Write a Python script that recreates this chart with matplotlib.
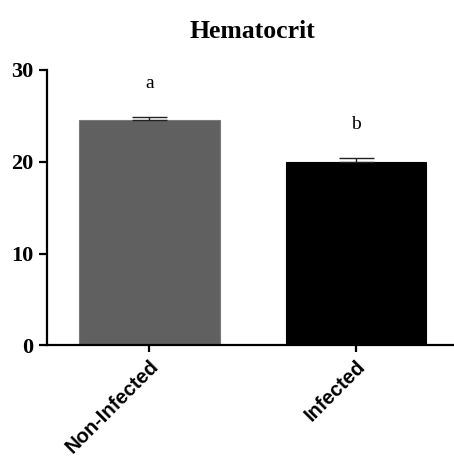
import matplotlib
matplotlib.use("Agg")
import matplotlib.pyplot as plt
from matplotlib.transforms import ScaledTranslation

groups = ["Non-Infected", "Infected"]
means = [24.55, 19.95]
sems = [0.3, 0.45]
letters = ["a", "b"]
bar_colors = ["#606060", "#000000"]

fig = plt.figure(figsize=(4.54, 4.57), dpi=100)
W, H = 454, 457
x0, y0, y1 = 47, 345.3, 70.0
ax = fig.add_axes([x0 / W, (H - y0) / H, (W - x0) / W, (y0 - y1) / H])

pos = list(range(len(groups)))
ax.bar(pos, means, width=0.68, color=bar_colors, edgecolor=["#7a7a7a", "#000000"],
       linewidth=0.8, zorder=2)
ax.errorbar(pos, means, yerr=[[0] * len(sems), sems], fmt="none", ecolor="#222222",
            elinewidth=1.0, capsize=12.6, capthick=1.0, zorder=3)

for p, m, s, t in zip(pos, means, sems, letters):
    ax.text(p, m + s + 3.7, t, ha="center", va="center",
            fontsize=14, family="Liberation Serif")

ax.set_ylim(0, 30)
ax.set_xlim(-0.496, 1.475)
ax.set_yticks([0, 10, 20, 30])
ax.set_yticklabels(["0", "10", "20", "30"], fontsize=16,
                   family="Liberation Serif", fontweight="bold")
ax.set_xticks(pos)
ax.set_xticklabels(groups, rotation=45, ha="right", va="top",
                   rotation_mode="anchor", fontsize=14.5,
                   family="Liberation Sans", fontweight="bold")
shift = ScaledTranslation(-0.05, -0.01, fig.dpi_scale_trans)
for lab in ax.get_xticklabels():
    lab.set_transform(lab.get_transform() + shift)

for side in ("top", "right"):
    ax.spines[side].set_visible(False)
for side in ("left", "bottom"):
    ax.spines[side].set_linewidth(1.6)
ax.tick_params(axis="y", length=6, width=1.6, pad=4)
ax.tick_params(axis="x", length=5, width=1.6, pad=3)

fig.text(252 / W, 1 - 31 / H, "Hematocrit", ha="center", va="center",
         fontsize=18.5, family="Liberation Serif", fontweight="bold")

fig.savefig("out.png", dpi=100)
